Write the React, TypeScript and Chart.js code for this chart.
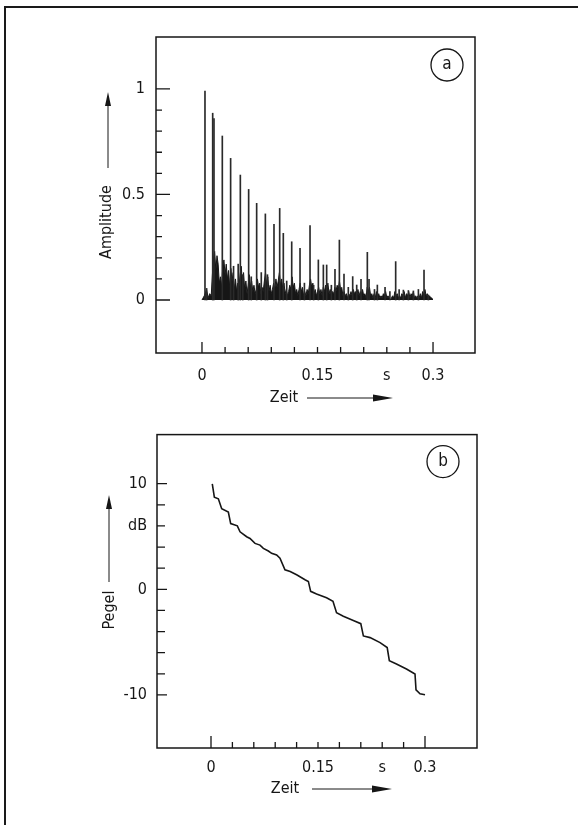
import React, { useEffect, useRef } from "react";
import { Chart, registerables } from "chart.js";

Chart.register(...registerables);

const FONT = "'DejaVu Sans Condensed', 'Liberation Sans Narrow', 'Roboto Condensed', 'DejaVu Sans', sans-serif";
const INK = "#161616";

// ---------- Chart (a): impulse response ----------
const spikeTimes = [
  0.0039, 0.0139, 0.0156, 0.0264, 0.0372, 0.0498, 0.0606, 0.071, 0.0823, 0.0935,
  0.1009, 0.1056, 0.1165, 0.1273, 0.1403, 0.1511, 0.1576, 0.1619, 0.1727, 0.1784,
  0.1844, 0.1957, 0.2009, 0.2065, 0.2147, 0.2169, 0.2277, 0.2377, 0.2515, 0.2615,
  0.268, 0.2745, 0.2883, 0.2939,
  0.006, 0.041, 0.047, 0.053, 0.064, 0.077, 0.085, 0.11, 0.133, 0.145, 0.168, 0.19,
  0.224, 0.244, 0.256, 0.281,
];
const spikeAmps = [
  0.99, 0.885, 0.86, 0.777, 0.671, 0.592, 0.524, 0.458, 0.408, 0.358,
  0.434, 0.316, 0.276, 0.245, 0.353, 0.19, 0.166, 0.166, 0.145, 0.284,
  0.123, 0.111, 0.071, 0.098, 0.226, 0.098, 0.071, 0.06, 0.182, 0.047,
  0.045, 0.043, 0.142, 0.024,
  0.055, 0.16, 0.17, 0.12, 0.11, 0.13, 0.12, 0.09, 0.08, 0.07, 0.07, 0.06,
  0.05, 0.04, 0.05, 0.05,
];
const grassTimes = [
  0.0, 0.003, 0.006, 0.008, 0.01, 0.012, 0.0135, 0.015, 0.0165, 0.018, 0.0195, 0.021, 0.0225, 0.024,
  0.0255, 0.027, 0.0285, 0.03, 0.0315, 0.033, 0.0345, 0.036, 0.0375, 0.039, 0.0405, 0.042, 0.0435,
  0.045, 0.0465, 0.048, 0.0495, 0.051, 0.0525, 0.054, 0.0555, 0.057, 0.0585, 0.06, 0.0615, 0.063,
  0.0645, 0.066, 0.0675, 0.069, 0.0705, 0.072, 0.0735, 0.075, 0.0765, 0.078, 0.0795, 0.081, 0.0825,
  0.084, 0.0855, 0.087, 0.0885, 0.09, 0.0915, 0.093, 0.0945, 0.096, 0.0975, 0.099, 0.1005, 0.102,
  0.1035, 0.105, 0.1065, 0.108, 0.1095, 0.111, 0.1125, 0.114, 0.1155, 0.117, 0.1185, 0.12, 0.1215,
  0.123, 0.1245, 0.126, 0.1275, 0.129, 0.1305, 0.132, 0.1335, 0.135, 0.1365, 0.138, 0.1395, 0.141,
  0.1425, 0.144, 0.1455, 0.147, 0.1485, 0.15, 0.1515, 0.153, 0.1545, 0.156, 0.1575, 0.159, 0.1605,
  0.162, 0.1635, 0.165, 0.1665, 0.168, 0.1695, 0.171, 0.1725, 0.174, 0.1755, 0.177, 0.1785, 0.18,
  0.1815, 0.183, 0.1845, 0.186, 0.1875, 0.189, 0.1905, 0.192, 0.1935, 0.195, 0.1965, 0.198, 0.1995,
  0.201, 0.2025, 0.204, 0.2055, 0.207, 0.2085, 0.21, 0.2115, 0.213, 0.2145, 0.216, 0.2175, 0.219,
  0.2205, 0.222, 0.2235, 0.225, 0.2265, 0.228, 0.2295, 0.231, 0.2325, 0.234, 0.2355, 0.237, 0.2385,
  0.24, 0.2415, 0.243, 0.2445, 0.246, 0.2475, 0.249, 0.2505, 0.252, 0.2535, 0.255, 0.2565, 0.258,
  0.2595, 0.261, 0.2625, 0.264, 0.2655, 0.267, 0.2685, 0.27, 0.2715, 0.273, 0.2745, 0.276, 0.2775,
  0.279, 0.2805, 0.282, 0.2835, 0.285, 0.2865, 0.288, 0.2895, 0.291, 0.2925, 0.294, 0.2955, 0.297,
  0.2985, 0.2996,
];
const grassAmps = [
  0.0, 0.02, 0.05, 0.01, 0.03, 0.02, 0.12, 0.2, 0.23, 0.14, 0.21, 0.17, 0.08, 0.11,
  0.06, 0.16, 0.19, 0.12, 0.17, 0.1, 0.14, 0.06, 0.15, 0.09, 0.13, 0.05, 0.1,
  0.04, 0.08, 0.06, 0.12, 0.16, 0.08, 0.13, 0.05, 0.09, 0.03, 0.07, 0.12, 0.06,
  0.09, 0.04, 0.07, 0.03, 0.05, 0.1, 0.06, 0.08, 0.03, 0.06, 0.04, 0.09, 0.13,
  0.07, 0.11, 0.04, 0.07, 0.03, 0.05, 0.08, 0.05, 0.1, 0.06, 0.09, 0.13, 0.07,
  0.1, 0.05, 0.08, 0.03, 0.05, 0.02, 0.04, 0.07, 0.05, 0.11, 0.06, 0.08, 0.03,
  0.05, 0.02, 0.05, 0.08, 0.04, 0.06, 0.02, 0.04, 0.02, 0.05, 0.03, 0.07, 0.1,
  0.06, 0.08, 0.03, 0.05, 0.02, 0.04, 0.06, 0.03, 0.05, 0.02, 0.06, 0.04, 0.07,
  0.05, 0.08, 0.03, 0.05, 0.02, 0.04, 0.03, 0.06, 0.04, 0.07, 0.05, 0.09, 0.05,
  0.06, 0.02, 0.04, 0.02, 0.03, 0.01, 0.03, 0.02, 0.04, 0.02, 0.05, 0.03, 0.04,
  0.02, 0.05, 0.02, 0.04, 0.03, 0.05, 0.02, 0.03, 0.01, 0.06, 0.04, 0.06, 0.02,
  0.03, 0.01, 0.03, 0.01, 0.04, 0.02, 0.03, 0.01, 0.02, 0.01, 0.03, 0.02, 0.04,
  0.01, 0.02, 0.01, 0.0, 0.01, 0.02, 0.01, 0.04, 0.02, 0.03, 0.01, 0.02, 0.01,
  0.03, 0.02, 0.04, 0.01, 0.03, 0.02, 0.04, 0.01, 0.03, 0.02, 0.04, 0.01, 0.02,
  0.01, 0.02, 0.01, 0.03, 0.01, 0.04, 0.02, 0.05, 0.02, 0.03, 0.01, 0.02, 0.01,
  0.01, 0.0,
];
const ampTickValues = [0, 0.5, 1];
const ampTickLabels = ["0", "0.5", "1"];
const ampMinorTicks = [0, 0.1, 0.2, 0.3, 0.4, 0.5, 0.6, 0.7, 0.8, 0.9, 1];
const ampMajorTicks = [0, 0.5, 1];

// shared time axis
const timeTickValues = [0, 0.15, 0.24, 0.3];
const timeTickLabels = ["0", "0.15", "s", "0.3"];
const timeMinorTicks = [0, 0.03, 0.06, 0.09, 0.12, 0.15, 0.18, 0.21, 0.24, 0.27, 0.3];
const timeMajorTicks = [0, 0.3];

// ---------- Chart (b): decay curve ----------
const decayTimes = [
  0.0018, 0.0047, 0.0103, 0.015, 0.0243, 0.0276, 0.0369, 0.0407, 0.05, 0.0547, 0.0617,
  0.0687, 0.0734, 0.0804, 0.085, 0.092, 0.0967, 0.1037, 0.111, 0.12, 0.1318, 0.1365,
  0.1397, 0.148, 0.162, 0.171, 0.176, 0.1855, 0.1995, 0.21, 0.2136, 0.223, 0.237,
  0.247, 0.25, 0.26, 0.274, 0.286, 0.2874, 0.293, 0.3,
];
const decayLevels = [
  9.98, 8.73, 8.57, 7.64, 7.32, 6.23, 6.01, 5.45, 4.98, 4.82, 4.35,
  4.19, 3.88, 3.63, 3.41, 3.25, 2.94, 1.85, 1.69, 1.38, 0.91, 0.75,
  -0.19, -0.44, -0.8, -1.13, -2.22, -2.54, -2.94, -3.25, -4.41, -4.57, -5.04,
  -5.51, -6.76, -7.07, -7.54, -8.01, -9.51, -9.89, -9.98,
];
const levelTickValues = [-10, 0, 6, 10];
const levelTickLabels = ["-10", "0", "dB", "10"];
const levelMinorTicks = [-10, -8, -6, -4, -2, 0, 2, 4, 6, 8, 10];
const levelMajorTicks = [-10, 0, 10];

function drawArrow(ctx: CanvasRenderingContext2D, x1: number, y1: number, x2: number, y2: number, headLen: number, headW: number) {
  const dx = x2 - x1, dy = y2 - y1;
  const L = Math.hypot(dx, dy);
  const ux = dx / L, uy = dy / L;
  const bx = x2 - ux * headLen, by = y2 - uy * headLen;
  ctx.beginPath();
  ctx.lineWidth = 1;
  ctx.moveTo(x1, y1);
  ctx.lineTo(bx, by);
  ctx.stroke();
  ctx.beginPath();
  ctx.moveTo(x2, y2);
  ctx.lineTo(bx - uy * headW / 2, by + ux * headW / 2);
  ctx.lineTo(bx + uy * headW / 2, by - ux * headW / 2);
  ctx.closePath();
  ctx.fill();
}

type DecorOpts = {
  xTicks: number[]; xMajor: number[]; xMajorLen: number; xMinorLen: number;
  yTicks: number[]; yMajor: number[]; yMajorLen: number; yMinorLen: number;
  yTitle: string; yTitleDx: number; yTitleCy: number; yArrowDx: number; yArrowFrom: number; yArrowTo: number;
  xTitle: string; xTitleCx: number; xTitleDy: number; xArrowFrom: number; xArrowTo: number;
  badge: string; badgeDx: number; badgeDy: number;
};

function decorPlugin(o: DecorOpts) {
  return {
    id: "decor",
    afterDraw(chart: any) {
      const { ctx, chartArea: ca, scales } = chart;
      const xs = scales.x, ys = scales.y;
      ctx.save();
      ctx.strokeStyle = INK;
      ctx.fillStyle = INK;
      ctx.lineWidth = 1.5;
      ctx.strokeRect(ca.left, ca.top, ca.right - ca.left, ca.bottom - ca.top);
      ctx.lineWidth = 1.3;
      ctx.beginPath();
      o.xTicks.forEach((v) => {
        const px = xs.getPixelForValue(v);
        const len = o.xMajor.includes(v) ? o.xMajorLen : o.xMinorLen;
        ctx.moveTo(px, ca.bottom);
        ctx.lineTo(px, ca.bottom - len);
      });
      o.yTicks.forEach((v) => {
        const py = ys.getPixelForValue(v);
        const len = o.yMajor.includes(v) ? o.yMajorLen : o.yMinorLen;
        ctx.moveTo(ca.left, py);
        ctx.lineTo(ca.left + len, py);
      });
      ctx.stroke();

      ctx.font = `16px ${FONT}`;
      ctx.textAlign = "center";
      ctx.textBaseline = "middle";
      // y title
      ctx.save();
      ctx.translate(ca.left + o.yTitleDx, o.yTitleCy);
      ctx.rotate(-Math.PI / 2);
      ctx.fillText(o.yTitle, 0, 0);
      ctx.restore();
      drawArrow(ctx, ca.left + o.yArrowDx, o.yArrowFrom, ca.left + o.yArrowDx, o.yArrowTo, 14, 6);
      // x title
      const ty = ca.bottom + o.xTitleDy;
      ctx.fillText(o.xTitle, o.xTitleCx, ty);
      drawArrow(ctx, o.xArrowFrom, ty, o.xArrowTo, ty, 20, 7);
      // badge
      const cx = ca.right + o.badgeDx, cy = ca.top + o.badgeDy;
      ctx.beginPath();
      ctx.lineWidth = 1.3;
      ctx.arc(cx, cy, 16, 0, Math.PI * 2);
      ctx.stroke();
      ctx.font = `17px ${FONT}`;
      ctx.fillText(o.badge, cx, cy);
      ctx.restore();
    },
  };
}

function ImpulseChart() {
  const ref = useRef<HTMLCanvasElement>(null);
  useEffect(() => {
    const grass = grassTimes.map((t, i) => ({ x: t, y: grassAmps[i] }));
    const spikes = spikeTimes.map((t, i) => ({ x: t, y: spikeAmps[i] }));
    const chart = new Chart(ref.current!, {
      type: "bar",
      data: {
        datasets: [
          {
            type: "line",
            data: grass,
            borderColor: INK,
            backgroundColor: INK,
            borderWidth: 1,
            pointRadius: 0,
            fill: "origin",
            tension: 0,
            order: 2,
          } as any,
          {
            type: "bar",
            data: spikes,
            backgroundColor: "#2a2a2a",
            borderWidth: 0,
            barThickness: 1,
            order: 1,
          } as any,
        ],
      },
      options: {
        animation: false,
        responsive: false,
        maintainAspectRatio: false,
        layout: { padding: { left: 96, right: 103, top: 37, bottom: 22 } },
        plugins: { legend: { display: false }, tooltip: { enabled: false } },
        scales: {
          x: {
            type: "linear",
            offset: false,
            min: -0.0597,
            max: 0.3545,
            grid: { display: false, drawTicks: false },
            border: { display: false },
            afterBuildTicks: (s: any) => { s.ticks = timeTickValues.map((v) => ({ value: v })); },
            afterFit: (s: any) => { s.height = 40; },
            ticks: {
              autoSkip: false,
              maxRotation: 0,
              padding: 13,
              color: INK,
              font: { family: FONT, size: 16 },
              callback: (v: any) => timeTickLabels[timeTickValues.indexOf(Number(v))],
            },
          },
          y: {
            type: "linear",
            min: -0.251,
            max: 1.246,
            grid: { display: false, drawTicks: false },
            border: { display: false },
            afterBuildTicks: (s: any) => { s.ticks = ampTickValues.map((v) => ({ value: v })); },
            afterFit: (s: any) => { s.width = 60; },
            ticks: {
              autoSkip: false,
              padding: 11,
              color: INK,
              font: { family: FONT, size: 16 },
              callback: (v: any) => ampTickLabels[ampTickValues.indexOf(Number(v))],
            },
          },
        },
      } as any,
      plugins: [
        decorPlugin({
          xTicks: timeMinorTicks, xMajor: timeMajorTicks, xMajorLen: 11, xMinorLen: 6,
          yTicks: ampMinorTicks, yMajor: ampMajorTicks, yMajorLen: 14, yMinorLen: 6,
          yTitle: "Amplitude", yTitleDx: -49, yTitleCy: 222, yArrowDx: -48, yArrowFrom: 168, yArrowTo: 92,
          xTitle: "Zeit", xTitleCx: 284, xTitleDy: 45, xArrowFrom: 307, xArrowTo: 393,
          badge: "a", badgeDx: -28, badgeDy: 28,
        }) as any,
      ],
    });
    return () => chart.destroy();
  }, []);
  return <canvas ref={ref} width={578} height={415} style={{ position: "absolute", left: 0, top: 0 }} />;
}

function DecayChart() {
  const ref = useRef<HTMLCanvasElement>(null);
  useEffect(() => {
    const pts = decayTimes.map((t, i) => ({ x: t, y: decayLevels[i] }));
    const chart = new Chart(ref.current!, {
      type: "line",
      data: {
        datasets: [
          {
            data: pts,
            borderColor: INK,
            borderWidth: 1.6,
            pointRadius: 0,
            tension: 0,
            fill: false,
          },
        ],
      },
      options: {
        animation: false,
        responsive: false,
        maintainAspectRatio: false,
        layout: { padding: { left: 97, right: 101, top: 17, bottom: 37 } },
        plugins: { legend: { display: false }, tooltip: { enabled: false } },
        scales: {
          x: {
            type: "linear",
            min: -0.0757,
            max: 0.3729,
            grid: { display: false, drawTicks: false },
            border: { display: false },
            afterBuildTicks: (s: any) => { s.ticks = timeTickValues.map((v) => ({ value: v })); },
            afterFit: (s: any) => { s.height = 40; },
            ticks: {
              autoSkip: false,
              maxRotation: 0,
              padding: 10,
              color: INK,
              font: { family: FONT, size: 16 },
              callback: (v: any) => timeTickLabels[timeTickValues.indexOf(Number(v))],
            },
          },
          y: {
            type: "linear",
            min: -15.02,
            max: 14.65,
            grid: { display: false, drawTicks: false },
            border: { display: false },
            afterBuildTicks: (s: any) => { s.ticks = levelTickValues.map((v) => ({ value: v })); },
            afterFit: (s: any) => { s.width = 60; },
            ticks: {
              autoSkip: false,
              padding: 10,
              color: INK,
              font: { family: FONT, size: 16 },
              callback: (v: any) => levelTickLabels[levelTickValues.indexOf(Number(v))],
            },
          },
        },
      } as any,
      plugins: [
        decorPlugin({
          xTicks: timeMinorTicks, xMajor: timeMajorTicks, xMajorLen: 12, xMinorLen: 6,
          yTicks: levelMinorTicks, yMajor: levelMajorTicks, yMajorLen: 10, yMinorLen: 8,
          yTitle: "Pegel", yTitleDx: -47, yTitleCy: 610 - 415, yArrowDx: -48, yArrowFrom: 582 - 415, yArrowTo: 495 - 415,
          xTitle: "Zeit", xTitleCx: 285, xTitleDy: 41, xArrowFrom: 312, xArrowTo: 392,
          badge: "b", badgeDx: -34, badgeDy: 27,
        }) as any,
      ],
    });
    return () => chart.destroy();
  }, []);
  return <canvas ref={ref} width={578} height={410} style={{ position: "absolute", left: 0, top: 415 }} />;
}

export default function App() {
  return (
    <div style={{ position: "absolute", left: 0, top: 0, width: 578, height: 825, overflow: "hidden", background: "#fff" }}>
      <div
        style={{
          position: "absolute",
          left: 4,
          top: 6,
          width: 700,
          height: 900,
          borderLeft: "2px solid #1a1a1a",
          borderTop: "2px solid #1a1a1a",
        }}
      />
      <ImpulseChart />
      <DecayChart />
    </div>
  );
}
